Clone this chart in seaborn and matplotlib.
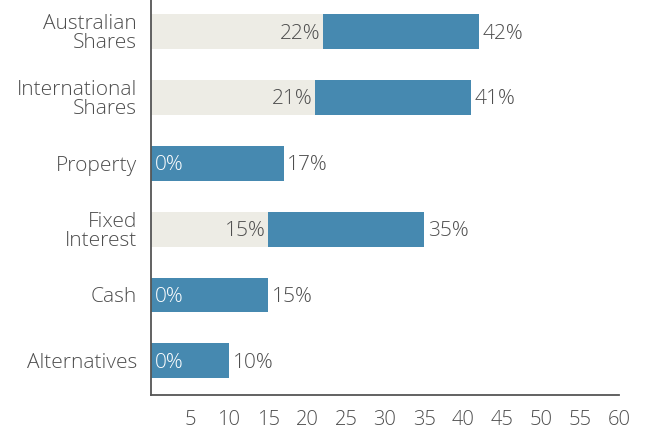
import matplotlib
matplotlib.use("Agg")
import matplotlib.pyplot as plt
import seaborn as sns
import pandas as pd
import numpy as np

# Asset allocation ranges: lower and upper bound per asset class (%)
categories = ["Australian\nShares", "International\nShares", "Property",
              "Fixed\nInterest", "Cash", "Alternatives"]
low_values = [22, 21, 0, 15, 0, 0]
high_values = [42, 41, 17, 35, 15, 10]
x_ticks = [5, 10, 15, 20, 25, 30, 35, 40, 45, 50, 55, 60]

blue = "#4689b0"
grey_fill = "#edece5"
text_grey = "#4e4e4e"

sns.set_theme(style="white")
plt.rcParams["font.family"] = ["Open Sans", "DejaVu Sans"]

df = pd.DataFrame({"category": categories, "low": low_values, "high": high_values})

fig = plt.figure(figsize=(6.47, 4.32), dpi=100)
ax = fig.add_axes([0.2334, 0.0856, 0.7235, 0.9144])

sns.barplot(data=df, y="category", x="high", color=blue, saturation=1,
            width=0.53, orient="h", ax=ax, edgecolor="none")
sns.barplot(data=df, y="category", x="low", color=grey_fill, saturation=1,
            width=0.53, orient="h", ax=ax, edgecolor="none")

label_size = 15
dy = 0.03  # nudge labels down slightly to sit centred on the bars
for i, (lo, hi) in enumerate(zip(low_values, high_values)):
    ax.text(hi + 0.45, i + dy, f"{hi}%", va="center", ha="left",
            fontsize=label_size, color=text_grey, fontweight="light")
    if lo == 0:
        ax.text(0.45, i + dy, f"{lo}%", va="center", ha="left",
                fontsize=label_size, color="white", fontweight="light")
    else:
        ax.text(lo - 0.25, i + dy, f"{lo}%", va="center", ha="right",
                fontsize=label_size, color=text_grey, fontweight="light")

ax.set_xlim(0, 60)
ax.set_ylim(5.52, -0.48)
ax.set_xticks(x_ticks)
ax.set_xticklabels([str(t) for t in x_ticks], fontsize=14.5, color=text_grey,
                   fontweight="light")
ax.set_yticks(range(len(categories)))
ax.set_yticklabels(categories, fontsize=15, color=text_grey, linespacing=0.95,
                   fontweight="light")
ax.set_xlabel("")
ax.set_ylabel("")

ax.tick_params(axis="x", direction="inout", length=10, width=1,
               color="#666666", pad=6)
ax.tick_params(axis="y", length=0, pad=10)
ax.set_yticks(np.arange(0.5, len(categories) - 0.5, 1), minor=True)
ax.tick_params(axis="y", which="minor", direction="out", length=3,
               width=0.8, color="#999999")

for side in ["top", "right"]:
    ax.spines[side].set_visible(False)
for side in ["left", "bottom"]:
    ax.spines[side].set_color("#555555")
    ax.spines[side].set_linewidth(1.3)

fig.savefig("out.png", dpi=100)
